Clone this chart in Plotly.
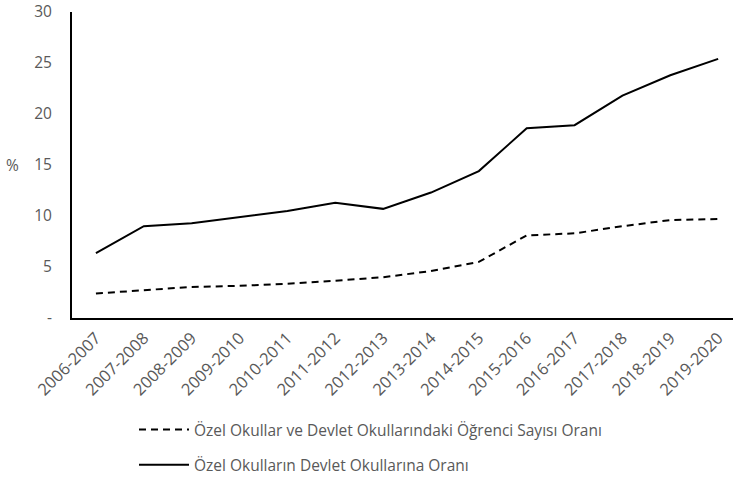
import plotly.graph_objects as go

categories = ["2006-2007", "2007-2008", "2008-2009", "2009-2010", "2010-2011",
              "2011-2012", "2012-2013", "2013-2014", "2014-2015", "2015-2016",
              "2016-2017", "2017-2018", "2018-2019", "2019-2020"]
ogrenci_orani = [2.4, 2.75, 3.05, 3.15, 3.35, 3.65, 4.0, 4.6, 5.5, 8.1, 8.3, 9.0, 9.6, 9.7]
okul_orani = [6.35, 9.0, 9.3, 9.9, 10.5, 11.3, 10.7, 12.3, 14.4, 18.6, 18.9, 21.8, 23.8, 25.4]
y_ticks = [0, 5, 10, 15, 20, 25, 30]
y_ticktext = ["-", "5", "10", "15", "20", "25", "30"]

gray = "#595959"
font_family = "Open Sans, Noto Sans, sans-serif"

W, H = 734, 480

fig = go.Figure()
fig.add_trace(go.Scatter(
    x=categories, y=ogrenci_orani, mode="lines",
    name="Özel Okullar ve Devlet Okullarındaki Öğrenci Sayısı Oranı",
    line=dict(color="#000000", width=2, dash="7px,5px"),
    legendgroup="a",
))
fig.add_trace(go.Scatter(
    x=categories, y=okul_orani, mode="lines",
    name="Özel Okulların Devlet Okullarına Oranı",
    line=dict(color="#000000", width=2),
    legendgroup="b",
))

fig.update_layout(
    width=W, height=H,
    margin=dict(l=72, r=1, t=12, b=162, autoexpand=False),
    paper_bgcolor="white", plot_bgcolor="white",
    font=dict(family=font_family, color=gray, size=13),
    showlegend=True,
    legend=dict(
        xref="container", yref="container",
        x=134 / W, y=1 - 413 / H, xanchor="left", yanchor="top",
        orientation="v", tracegroupgap=12,
        font=dict(size=15.5, color=gray, family=font_family),
        itemwidth=50, bgcolor="rgba(0,0,0,0)",
    ),
    xaxis=dict(
        type="category", range=[-0.5, 13.31],
        showline=True, linecolor="#000000", linewidth=2,
        showgrid=False, ticks="", tickangle=-45,
        tickfont=dict(size=16.5, color=gray),
        ticklabelstandoff=2,
        zeroline=False, fixedrange=True, automargin=False,
    ),
    yaxis=dict(
        range=[0, 30], tickvals=y_ticks, ticktext=y_ticktext,
        showline=True, linecolor="#000000", linewidth=2,
        showgrid=False, ticks="", zeroline=False, automargin=False,
        ticklabeloverflow="allow",
        tickfont=dict(size=15.5, color=gray), ticklabelstandoff=15,
    ),
    annotations=[dict(
        text="%", xref="paper", yref="paper",
        x=(12 - 72) / 661, y=0.5, xanchor="center", yanchor="middle",
        showarrow=False, font=dict(size=15.5, color=gray),
    )],
)

# remove the browser's default 8px body margin so the 734x480 figure fills the window
fig.write_html("out.html", config={"displayModeBar": False},
               post_script="document.body.style.margin='0';")
